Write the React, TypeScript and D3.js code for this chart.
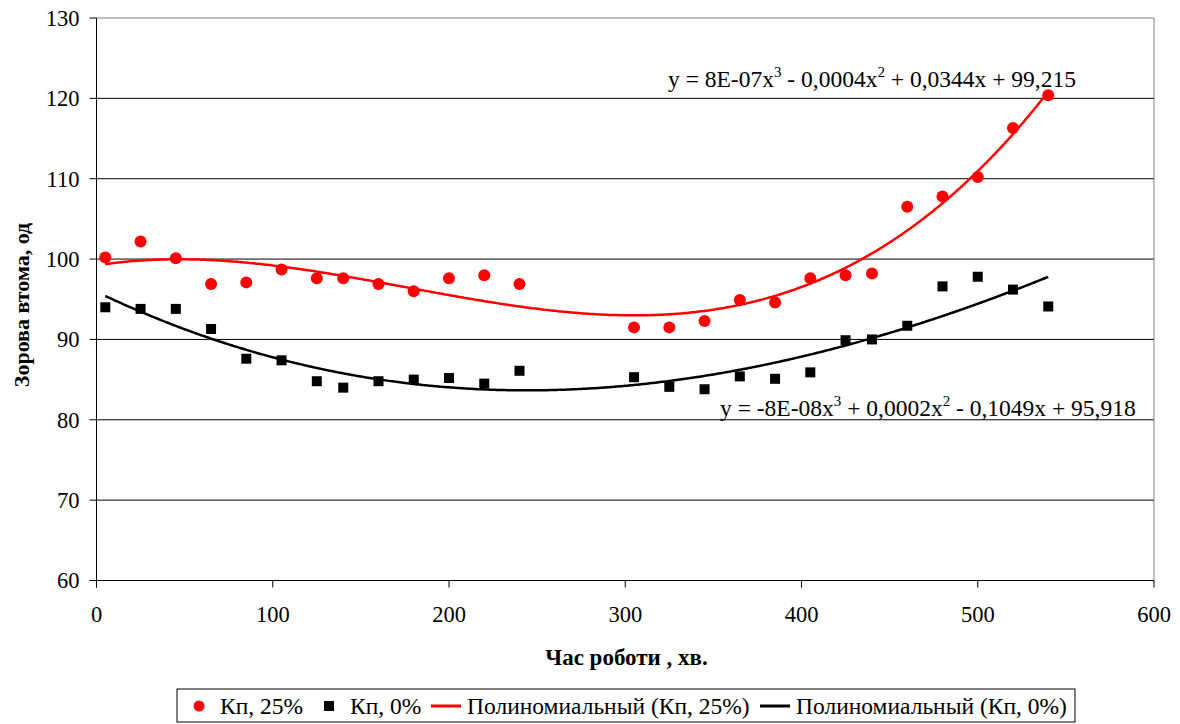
import React from "react";
import * as d3 from "d3";

const xValues = [5, 25, 45, 65, 85, 105, 125, 140, 160, 180, 200, 220, 240, 305, 325, 345, 365, 385, 405, 425, 440, 460, 480, 500, 520, 540];
const kp25 = [100.2, 102.2, 100.1, 96.9, 97.1, 98.7, 97.6, 97.6, 96.9, 96.0, 97.6, 98.0, 96.9, 91.5, 91.5, 92.3, 94.9, 94.6, 97.6, 98.0, 98.2, 106.5, 107.8, 110.2, 116.3, 120.4];
const kp0 = [94.0, 93.8, 93.8, 91.3, 87.6, 87.4, 84.8, 84.0, 84.8, 85.0, 85.2, 84.5, 86.1, 85.3, 84.1, 83.8, 85.4, 85.1, 85.9, 89.9, 90.0, 91.7, 96.6, 97.8, 96.2, 94.1];
const xTicks = [0, 100, 200, 300, 400, 500, 600];
const yTicks = [60, 70, 80, 90, 100, 110, 120, 130];
const legendLabels = ["Кп, 25%", "Кп, 0%", "Полиномиальный (Кп, 25%)", "Полиномиальный (Кп, 0%)"];

// least squares cubic fit (like a spreadsheet polynomial trendline)
function cubicFit(xs: number[], ys: number[]) {
  const s = 100;
  const n = 4;
  const A: number[][] = Array.from({ length: n }, () => new Array(n + 1).fill(0));
  xs.forEach((xv, i) => {
    const t = xv / s;
    const p = [1, t, t * t, t * t * t];
    for (let r = 0; r < n; r++) {
      for (let c = 0; c < n; c++) A[r][c] += p[r] * p[c];
      A[r][n] += p[r] * ys[i];
    }
  });
  for (let i = 0; i < n; i++) {
    let mx = i;
    for (let r = i + 1; r < n; r++) if (Math.abs(A[r][i]) > Math.abs(A[mx][i])) mx = r;
    [A[i], A[mx]] = [A[mx], A[i]];
    for (let r = 0; r < n; r++) {
      if (r === i) continue;
      const f = A[r][i] / A[i][i];
      for (let c = i; c <= n; c++) A[r][c] -= f * A[i][c];
    }
  }
  const coef = A.map((row, i) => row[n] / row[i]);
  return (xv: number) => {
    const t = xv / s;
    return coef[0] + coef[1] * t + coef[2] * t * t + coef[3] * t * t * t;
  };
}

const FONT = "'Liberation Serif'";

export default function App() {
  const W = 1180, H = 724;
  const x = d3.scaleLinear().domain([0, 600]).range([96.5, 1154]);
  const y = d3.scaleLinear().domain([60, 130]).range([580.5, 18]);
  const f25 = cubicFit(xValues, kp25);
  const f0 = cubicFit(xValues, kp0);
  const xs = d3.range(5, 540.01, 1);
  const line = d3.line<[number, number]>().x((d) => x(d[0])).y((d) => y(d[1]));
  const p25 = line(xs.map((v) => [v, f25(v)] as [number, number])) as string;
  const p0 = line(xs.map((v) => [v, f0(v)] as [number, number])) as string;
  const x0 = x(0), x1 = x(600), yTop = y(130), yBot = y(60);
  const ts: React.CSSProperties = { fontFamily: FONT };

  return (
    <svg width={W} height={H} style={{ position: "absolute", left: 0, top: 0, background: "#fff" }}>
      <rect x={0} y={0} width={W} height={H} fill="#fff" />
      {yTicks.filter((t) => t !== 60 && t !== 130).map((t) => (
        <line key={t} x1={x0} x2={x1} y1={y(t)} y2={y(t)} stroke="#000" strokeWidth={1} />
      ))}
      <line x1={x0} x2={x1} y1={yTop} y2={yTop} stroke="#808080" strokeWidth={1} />
      <line x1={x1} x2={x1} y1={yTop} y2={yBot} stroke="#808080" strokeWidth={1} />
      <line x1={x0} x2={x0} y1={yTop} y2={yBot + 7} stroke="#000" strokeWidth={1} />
      <line x1={x0 - 7} x2={x1} y1={yBot} y2={yBot} stroke="#000" strokeWidth={1} />
      {yTicks.map((t) => (
        <g key={t}>
          <line x1={x0 - 7} x2={x0} y1={y(t)} y2={y(t)} stroke="#000" />
          <text style={ts} x={x0 - 17} y={y(t)} dy="0.35em" textAnchor="end" fontSize={22.5} fill="#000">{t}</text>
        </g>
      ))}
      {xTicks.map((t) => (
        <g key={t}>
          <line x1={x(t)} x2={x(t)} y1={yBot} y2={yBot + 7} stroke="#000" />
          <text style={ts} x={x(t)} y={yBot + 34} dy="0.35em" textAnchor="middle" fontSize={22.5} fill="#000">{t}</text>
        </g>
      ))}
      <text style={ts} x={626.5} y={657} dy="0.35em" textAnchor="middle" fontSize={23} fontWeight="bold" fill="#000">Час роботи , хв.</text>
      <text style={ts} transform={`translate(21,305) rotate(-90)`} dy="0.35em" textAnchor="middle" fontSize={22} fontWeight="bold" fill="#000">Зорова втома, од</text>
      <path d={p25} fill="none" stroke="#ff0000" strokeWidth={2.5} />
      <path d={p0} fill="none" stroke="#000" strokeWidth={2.5} />
      {xValues.map((v, i) => (
        <circle key={"r" + i} cx={x(v)} cy={y(kp25[i])} r={6} fill="#ff0000" />
      ))}
      {xValues.map((v, i) => (
        <rect key={"b" + i} x={x(v) - 5} y={y(kp0[i]) - 5} width={10} height={10} fill="#000" />
      ))}
      <text style={ts} x={668} y={87} fontSize={23.5} fill="#000">
        y = 8E-07x<tspan dy={-10} fontSize={15}>3</tspan><tspan dy={10}> - 0,0004x</tspan><tspan dy={-10} fontSize={15}>2</tspan><tspan dy={10}> + 0,0344x + 99,215</tspan>
      </text>
      <text style={ts} x={720} y={416} fontSize={23.5} fill="#000">
        y = -8E-08x<tspan dy={-10} fontSize={15}>3</tspan><tspan dy={10}> + 0,0002x</tspan><tspan dy={-10} fontSize={15}>2</tspan><tspan dy={10}> - 0,1049x + 95,918</tspan>
      </text>
      <rect x={177} y={689} width={898} height={33} fill="#fff" stroke="#000" strokeWidth={1} />
      <circle cx={199} cy={706} r={5.5} fill="#ff0000" />
      <text style={ts} x={220} y={706} dy="0.35em" fontSize={23.5} fill="#000">{legendLabels[0]}</text>
      <rect x={324} y={701} width={10} height={10} fill="#000" />
      <text style={ts} x={350} y={706} dy="0.35em" fontSize={23.5} fill="#000">{legendLabels[1]}</text>
      <line x1={431} x2={461} y1={706} y2={706} stroke="#ff0000" strokeWidth={3} />
      <text style={ts} x={467} y={706} dy="0.35em" fontSize={23.5} fill="#000">{legendLabels[2]}</text>
      <line x1={760} x2={790} y1={706} y2={706} stroke="#000" strokeWidth={3} />
      <text style={ts} x={796} y={706} dy="0.35em" fontSize={23.5} fill="#000">{legendLabels[3]}</text>
    </svg>
  );
}
